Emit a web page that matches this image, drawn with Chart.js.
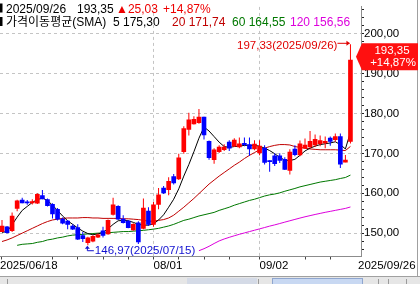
<!DOCTYPE html>
<html><head><meta charset="utf-8">
<script src="https://cdn.jsdelivr.net/npm/chart.js@4.4.1/dist/chart.umd.min.js"></script>
<style>html,body{margin:0;padding:0;background:#fff;overflow:hidden}canvas{display:block}</style>
</head><body>
<canvas id="c" width="420" height="284"></canvas>
<script>
// ---- data (daily candles, 2025/06/18 .. 2025/09/26) ----
const dates = ["2025/06/18","2025/06/19","2025/06/20","2025/06/23","2025/06/24","2025/06/25","2025/06/26","2025/06/27","2025/06/30",
"2025/07/01","2025/07/02","2025/07/03","2025/07/04","2025/07/07","2025/07/08","2025/07/09","2025/07/10","2025/07/11","2025/07/14","2025/07/15",
"2025/07/16","2025/07/17","2025/07/18","2025/07/21","2025/07/22","2025/07/23","2025/07/24","2025/07/25","2025/07/28","2025/07/29","2025/07/30","2025/07/31",
"2025/08/01","2025/08/04","2025/08/05","2025/08/06","2025/08/07","2025/08/08","2025/08/11","2025/08/12","2025/08/13","2025/08/14","2025/08/18",
"2025/08/19","2025/08/20","2025/08/21","2025/08/22","2025/08/25","2025/08/26","2025/08/27","2025/08/28","2025/08/29","2025/09/01","2025/09/02",
"2025/09/03","2025/09/04","2025/09/05","2025/09/08","2025/09/09","2025/09/10","2025/09/11","2025/09/12","2025/09/15","2025/09/16","2025/09/17",
"2025/09/18","2025/09/19","2025/09/22","2025/09/23","2025/09/24","2025/09/25","2025/09/26"];

const open = [null,null,
150.4,151.6,150.6,156.2,158.3,157.8,157.6,157.5,159.4,158.4,
157.2,156.0,153.5,153.0,151.8,151.4,149.4,147.6,148.0,149.0,
150.6,149.8,154.7,156.7,153.5,153.0,150.8,152.6,151.2,155.5,
152.2,157.2,161.3,160.9,164.2,163.6,170.4,176.0,177.4,177.7,
179.1,173.0,168.4,170.4,170.9,172.8,171.8,171.6,172.5,172.2,
171.1,170.1,171.3,168.2,169.4,169.4,168.5,165.7,171.1,169.6,
171.3,171.6,172.1,172.4,172.6,173.8,173.4,174.2,167.8,173.0];
const high = [null,null,
153.3,151.8,155.2,158.4,158.9,158.3,158.5,160.0,160.8,158.7,
157.5,156.3,153.9,153.3,152.2,152.2,150.3,149.1,149.5,149.9,
151.6,153.4,158.9,157.0,154.5,153.3,152.5,153.0,158.7,156.5,
157.8,161.3,161.8,164.0,164.8,169.9,176.8,180.2,179.3,181.1,
179.2,173.2,171.3,172.0,172.3,173.3,173.8,174.0,174.0,174.0,
173.3,173.3,172.0,168.3,170.0,170.0,169.0,171.0,172.0,173.2,
173.7,175.6,174.7,174.5,174.2,174.2,175.0,175.0,169.6,197.33];
const low = [null,null,
150.3,149.9,150.3,155.5,157.5,157.1,157.2,157.3,158.5,156.7,
153.7,153.2,152.2,151.0,150.8,148.3,147.8,146.97,147.7,148.8,
148.9,149.6,154.4,153.3,152.4,151.2,150.6,147.3,151.0,151.8,
151.6,156.0,159.8,159.5,162.2,163.3,169.9,174.5,177.2,177.4,
173.5,168.4,167.4,170.1,170.6,170.6,171.6,171.3,171.8,169.4,
170.8,169.5,167.2,165.4,166.8,167.6,165.8,164.7,169.3,169.3,
171.1,171.2,171.6,171.8,171.3,171.9,172.9,166.3,167.8,172.5];
const close = [null,null,
151.8,150.1,154.3,158.1,157.6,157.6,157.9,159.7,158.6,156.9,
154.8,153.5,152.5,152.2,151.0,148.5,148.6,148.8,149.2,149.6,
149.4,153.2,157.1,153.5,152.6,151.4,152.2,147.8,156.3,152.2,
157.1,159.6,160.1,163.0,162.6,168.9,176.2,178.4,178.5,179.1,
174.6,168.9,170.9,171.6,171.6,171.3,173.3,172.4,172.2,171.1,
172.3,171.8,167.7,167.9,167.4,168.2,166.0,170.3,169.7,172.4,
172.1,173.0,173.5,173.2,173.0,173.0,174.2,167.3,168.32,193.35];

const ma5 = [null,null,
150.2,150.4,152.1,154.0,155.7,156.7,157.7,158.4,158.8,158.2,
157.0,155.7,154.3,153.1,152.2,151.3,150.5,149.9,149.6,149.8,
150.2,151.1,152.2,153.1,153.2,153.1,152.7,152.2,152.0,152.0,
152.3,153.3,154.6,156.5,158.5,161.1,164.3,167.2,170.4,173.8,
176.6,175.6,174.2,172.8,171.7,171.5,171.7,171.8,172.0,172.0,
172.0,171.8,171.3,170.7,169.9,169.0,168.3,168.2,168.5,169.5,
170.6,171.3,171.8,172.2,172.4,172.6,172.9,172.2,171.1,175.30];
const ma20 = [null,null,
147.9,148.3,148.8,149.4,150.0,150.6,151.2,151.8,152.4,152.9,
153.3,153.5,153.7,153.8,153.8,153.8,153.9,153.9,153.8,153.8,
153.7,153.7,153.7,153.7,153.6,153.6,153.5,153.4,153.2,153.0,
153.0,153.2,153.4,153.8,154.5,155.5,156.5,157.6,158.7,159.9,
161.1,162.3,163.3,164.3,165.2,166.1,167.0,167.8,168.7,169.5,
170.2,170.9,171.3,171.7,172.0,172.2,172.2,172.1,171.7,171.5,
171.3,171.1,171.0,170.9,170.9,170.9,170.9,170.8,170.7,171.74];
const ma60 = [null,null,
null,null,null,146.95,147.2,147.3,147.4,147.7,147.9,148.3,
148.5,148.8,149.0,149.3,149.5,149.6,149.7,149.8,149.9,150.0,
150.05,150.1,150.2,150.3,150.4,150.4,150.5,150.6,150.7,150.85,
151.0,151.2,151.5,151.8,152.2,152.7,153.2,153.5,153.9,154.3,
154.6,154.9,155.2,155.7,156.1,156.5,157.0,157.4,157.8,158.2,
158.5,158.9,159.3,159.6,159.8,160.1,160.5,160.85,161.2,161.6,
161.9,162.2,162.5,162.8,163.0,163.2,163.4,163.7,163.95,164.55];
const ma120 = [null,null,
null,null,null,null,null,null,null,null,null,null,
null,null,null,null,null,null,null,null,null,null,
null,null,null,null,null,null,null,null,null,null,
null,null,null,null,null,null,null,null,null,145.6,
146.1,146.7,147.4,148.05,148.54,148.95,149.34,149.71,150.05,150.39,
150.73,151.07,151.41,151.76,152.07,152.41,152.76,153.10,153.44,153.78,
154.10,154.39,154.68,154.95,155.22,155.46,155.71,155.95,156.20,156.56];

const yTicks = [146,148,150,152,154,156,158,160,162,164,166,168,170,172,174,176,178,180,182,184,186,188,190,192,194,196,198,200,202,204,206];
const xMinorIdx = [2,12,17,22,27,37,42,47,62,67];
const xLabelIdx = [32,53];
const smaTitle = "가격이동평균(SMA)";

// ---- layout / style ----
const FONT = '"Liberation Sans", "Noto Sans CJK KR", sans-serif';
const UP = '#ff0000', DOWN = '#0000ff';
const C5 = '#000000', C20 = '#c00000', C60 = '#007800', C120 = '#dd00dd';
const GRID = '#c4c4c4';
const PLOT_R = 361, PLOT_B = 256.5;
const X_MIN = 1.604, X_MAX = 73.089;
const Y_MIN = 144.146, Y_MAX = 206.707;
const L = dates.length - 1;
const fmt = v => v.toFixed(2).replace('.', ',');

const idx = dates.map((d, i) => i).filter(i => open[i] != null);
const bodyData = idx.map(i => ({x: i, y: [open[i], close[i]]}));
const wickData = idx.map(i => ({x: i, y: [low[i], high[i]]}));
const candleColor = c => { const r = c.raw; if (!r) return UP; return close[r.x] >= open[r.x] ? UP : DOWN; };
const lineData = arr => arr.map((v, i) => ({x: i, y: v}));
const lineDs = (arr, col) => ({type: 'line', data: lineData(arr), borderColor: col, borderWidth: 1,
  pointRadius: 0, tension: 0, fill: false, spanGaps: false});

function buildXTicks() {
  const t = [{value: X_MIN, lbl: dates[0], kind: 'edge'}];
  xMinorIdx.forEach(i => t.push({value: i, lbl: '', kind: 'minor'}));
  xLabelIdx.forEach(i => t.push({value: i, lbl: dates[i].slice(5), kind: 'grid'}));
  t.push({value: X_MIN + 358 * (X_MAX - X_MIN) / PLOT_R, lbl: dates[L], kind: 'edge'});
  return t.sort((a, b) => a.value - b.value);
}

function text(c, s, x, y, col, size, align) {
  c.font = size + 'px ' + FONT; c.fillStyle = col;
  c.textAlign = align || 'left'; c.fillText(s, x, y);
}

const decor = {
  id: 'decor',
  beforeDraw(chart) {
    const c = chart.ctx; c.save(); c.fillStyle = '#fff'; c.fillRect(0, 0, chart.width, chart.height); c.restore();
  },
  afterDraw(chart) {
    const c = chart.ctx, xs = chart.scales.x, ys = chart.scales.y;
    c.save();
    // frame & scrollbar
    c.strokeStyle = '#a0a0a0'; c.lineWidth = 1;
    c.beginPath(); c.moveTo(417.5, 0); c.lineTo(417.5, 277); c.stroke();
    c.beginPath(); c.moveTo(0, 276.5); c.lineTo(420, 276.5); c.stroke();
    c.fillStyle = '#e6e6e6'; c.fillRect(0, 277, 420, 7);
    c.fillStyle = '#d4dae6'; c.fillRect(187, 278, 70, 6);
    c.fillStyle = '#c8d8f2'; c.fillRect(272, 278, 91, 6);
    c.strokeStyle = '#8fa6cf'; c.strokeRect(272.5, 278.5, 90, 6);
    c.strokeStyle = '#9a9a9a';
    [7, 258, 378, 388, 406].forEach(x => { c.beginPath(); c.moveTo(x + 0.5, 279); c.lineTo(x + 0.5, 284); c.stroke(); });

    // header
    c.textBaseline = 'alphabetic';
    c.fillStyle = '#000'; c.fillRect(0, 3.5, 2.5, 9); c.fillRect(0, 17, 2.5, 9);
    const chg = close[L] - close[L - 1], pct = chg / close[L - 1] * 100;
    text(c, dates[L], 6, 12.5, '#000', 12);
    text(c, fmt(close[L]), 77, 12.5, '#000', 12);
    text(c, (chg >= 0 ? '▲' : '▼') + fmt(Math.abs(chg)), 116, 12.5, '#ee0000', 12);
    text(c, (chg >= 0 ? '+' : '') + fmt(pct) + '%', 163, 12.5, '#ee0000', 12);
    text(c, smaTitle, 6, 26, '#000', 12);
    text(c, '5 ' + fmt(ma5[L]), 113, 26, '#000', 12);
    text(c, '20 ' + fmt(ma20[L]), 172, 26, C20, 12);
    text(c, '60 ' + fmt(ma60[L]), 232, 26, C60, 12);
    text(c, '120 ' + fmt(ma120[L]), 290, 26, C120, 12);

    // high annotation
    const hv = high.filter(v => v != null), hi = Math.max(...hv), hiI = high.indexOf(hi);
    const hx = xs.getPixelForValue(hiI), hy = ys.getPixelForValue(hi);
    c.strokeStyle = '#e00000'; c.fillStyle = '#e00000'; c.lineWidth = 1;
    c.beginPath(); c.moveTo(hx - 13, hy - 1); c.lineTo(hx - 1, hy - 1); c.stroke();
    c.beginPath(); c.moveTo(hx - 0.5, hy - 1); c.lineTo(hx - 4, hy - 3.5); c.lineTo(hx - 4, hy + 1.5); c.closePath(); c.fill();
    c.textBaseline = 'middle';
    text(c, fmt(hi) + '(' + dates[hiI] + ')', hx - 13, hy + 1.5, '#e00000', 11.5, 'right');

    // low annotation
    const lv = low.filter(v => v != null), lo = Math.min(...lv), loI = low.indexOf(lo);
    const lx = xs.getPixelForValue(loI), ly = ys.getPixelForValue(lo);
    c.strokeStyle = '#1010d0'; c.fillStyle = '#1010d0';
    c.beginPath(); c.moveTo(lx - 0.5, ly + 2); c.lineTo(lx - 0.5, ly + 5.5); c.lineTo(lx + 6, ly + 5.5); c.stroke();
    c.beginPath(); c.moveTo(lx - 0.5, ly + 0.5); c.lineTo(lx - 3, ly + 3.5); c.lineTo(lx + 2, ly + 3.5); c.closePath(); c.fill();
    text(c, fmt(lo) + '(' + dates[loI] + ')', lx + 7, ly + 5.5, '#1010d0', 11.5);

    // price tag
    const py = ys.getPixelForValue(close[L]) - 3.5;
    c.fillStyle = '#ff1010';
    c.beginPath(); c.moveTo(356, py); c.lineTo(362, py - 13.5); c.lineTo(418, py - 13.5);
    c.lineTo(418, py + 13.5); c.lineTo(362, py + 13.5); c.closePath(); c.fill();
    text(c, fmt(close[L]), 392, py - 6, '#fff', 11.5, 'center');
    text(c, (chg >= 0 ? '+' : '') + fmt(pct) + '%', 393, py + 6.5, '#fff', 11.5, 'center');
    c.restore();
  }
};

new Chart(document.getElementById('c'), {
  type: 'bar',
  data: {
    datasets: [
      {type: 'bar', data: bodyData, backgroundColor: candleColor, barThickness: 4, minBarLength: 1,
       grouped: false, borderWidth: 0, borderSkipped: false},
      {type: 'bar', data: wickData, backgroundColor: candleColor, barThickness: 1, minBarLength: 1,
       grouped: false, borderWidth: 0, borderSkipped: false, inflateAmount: 0},
      lineDs(ma5, C5), lineDs(ma20, C20), lineDs(ma60, C60), lineDs(ma120, C120)
    ]
  },
  options: {
    responsive: false, animation: false, events: [],
    layout: {padding: 0},
    plugins: {legend: {display: false}, tooltip: {enabled: false}, title: {display: false}},
    scales: {
      x: {
        type: 'linear', min: X_MIN, max: X_MAX, bounds: 'data', offset: false,
        afterFit: s => { s.height = 284 - PLOT_B; },
        afterBuildTicks: s => { s.ticks = buildXTicks(); },
        grid: {
          offset: false,
          color: c => (c.tick && c.tick.kind === 'grid') ? GRID : 'transparent',
          tickColor: c => (c.tick && c.tick.kind !== 'edge') ? '#444' : 'transparent',
          tickLength: 3, lineWidth: 1
        },
        border: {display: true, color: '#8c8c8c', width: 1, dash: [3, 3]},
        ticks: {autoSkip: false, maxRotation: 0, minRotation: 0, align: 'start', padding: -1,
          color: '#000', font: {family: FONT, size: 11.5},
          callback: (v, i, t) => t[i].lbl}
      },
      y: {
        type: 'linear', position: 'right', min: Y_MIN, max: Y_MAX, bounds: 'data',
        afterFit: s => { s.width = 420 - PLOT_R; },
        afterBuildTicks: s => { s.ticks = yTicks.map(v => ({value: v})); },
        grid: {
          color: c => (c.tick && c.tick.value % 10 === 0) ? GRID : 'transparent',
          tickColor: '#222', tickLength: 3, lineWidth: 1
        },
        border: {display: true, color: '#8c8c8c', width: 1, dash: [3, 3]},
        ticks: {autoSkip: false, padding: 0, color: '#000', font: {family: FONT, size: 11.5},
          callback: v => (v % 10 === 0 ? fmt(v) : '')}
      }
    }
  },
  plugins: [decor]
});
</script>
</body></html>
